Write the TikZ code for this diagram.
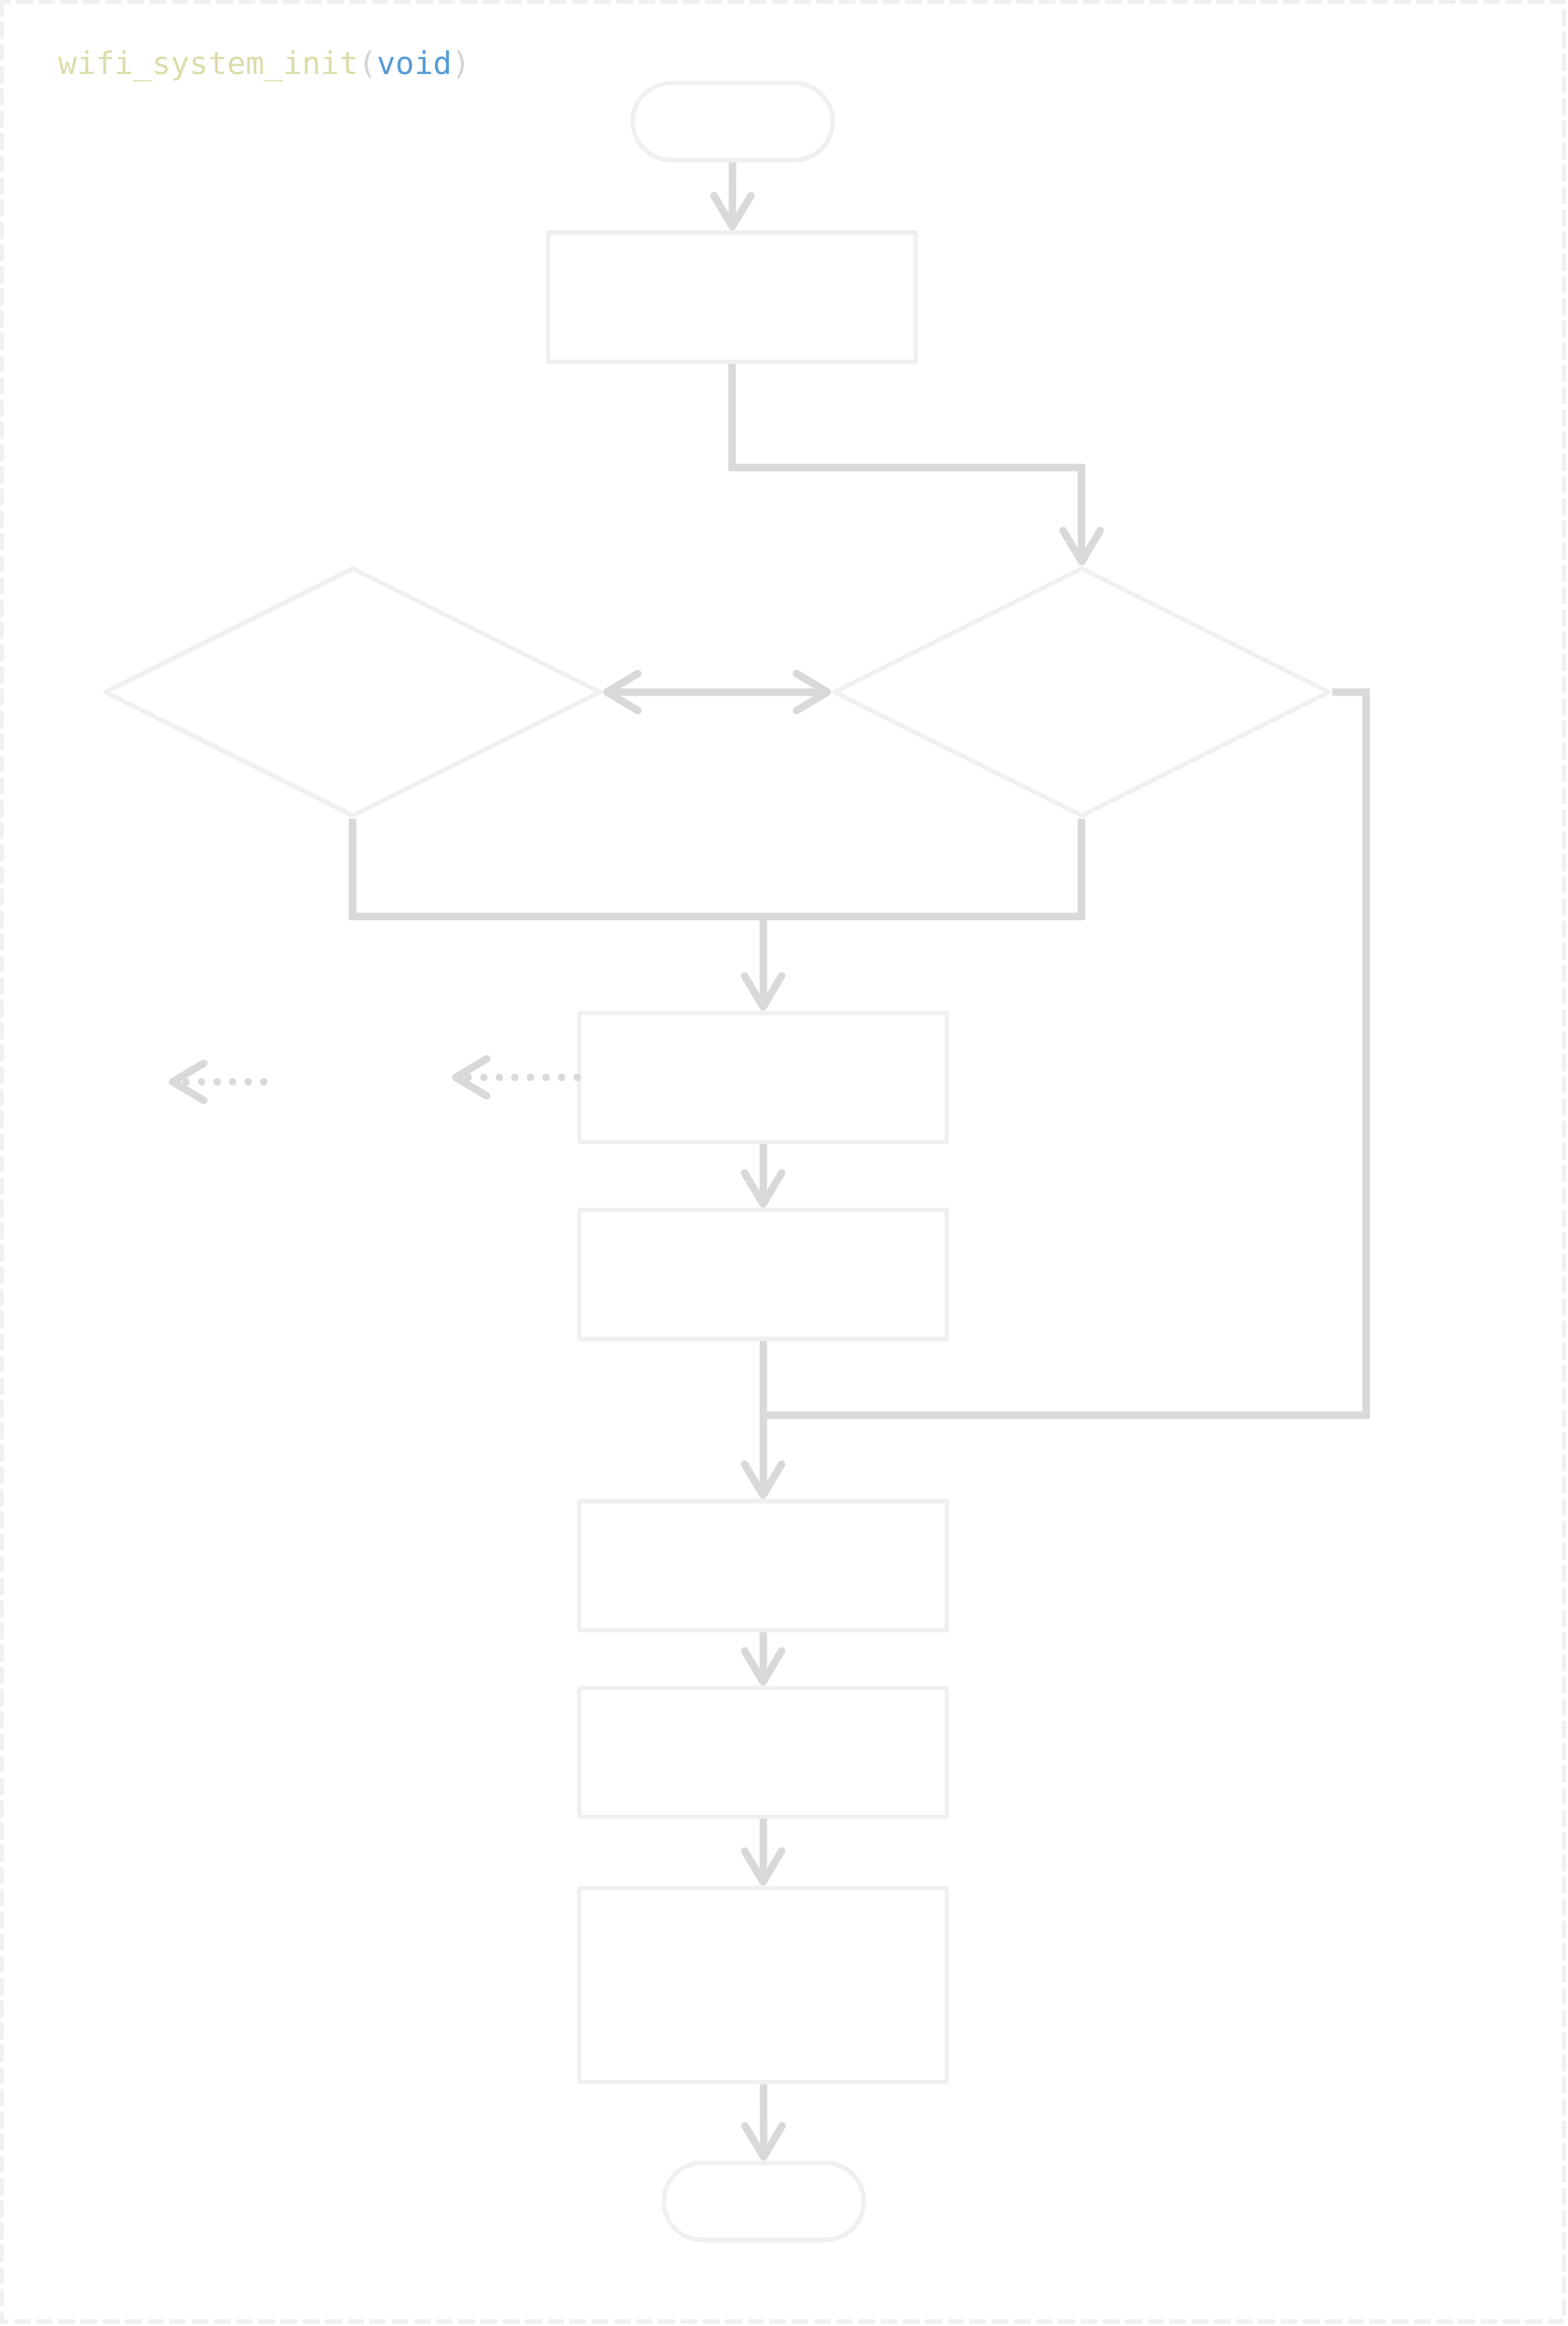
\documentclass[tikz,border=0pt]{standalone}
\usepackage{fontspec}
\newfontfamily\codefont{DejaVu Sans Mono}
\usetikzlibrary{arrows.meta,shapes.geometric}
\definecolor{edgegray}{HTML}{D9D9D9}
\definecolor{boxgray}{HTML}{F0F0F0}
\definecolor{fnyellow}{HTML}{DCDCAA}
\definecolor{kwblue}{HTML}{569CD6}
\definecolor{parengray}{HTML}{D4D4D4}
\begin{document}
\begin{tikzpicture}[x=1pt, y=-1pt, line join=round, line cap=round,
  proc/.style={draw=boxgray, line width=3pt, fill=white, minimum width=248pt, minimum height=87pt, inner sep=0pt},
  term/.style={draw=boxgray, line width=3pt, fill=white, rounded corners=26pt, minimum width=135pt, minimum height=52pt, inner sep=0pt},
  decision/.style={draw=boxgray, line width=3pt, diamond, aspect=2, minimum width=335pt, minimum height=168pt, inner sep=0pt},
  link/.style={draw=edgegray, line width=5pt, line join=miter, line cap=butt},
  flow/.style={link, -{Straight Barb[length=21pt,width=25pt,round]}},
  hint/.style={flow, line cap=round, dash pattern=on 0pt off 10.5pt}]
  \useasboundingbox (0,0) rectangle (1058,1569.6);
  \draw[boxgray, line width=3pt, dash pattern=on 9pt off 6pt] (1,1) rectangle (1055.5,1566.5);
  \node[anchor=base west, font=\codefont\fontsize{21}{25}\selectfont] (title) at (36,50)
    {\textcolor{fnyellow}{wifi\_system\_init}\textcolor{parengray}{(}\textcolor{kwblue}{void}\textcolor{parengray}{)}};
  % nodes
  \node[term] (start) at (494.5,82) {};
  \node[proc] (init) at (494,200.5) {};
  \node[decision] (d1) at (238,467) {};
  \node[decision] (d2) at (730,467) {};
  \node[proc] (box2) at (515,727) {};
  \node[proc] (box3) at (515,860) {};
  \node[proc] (box4) at (515,1056.5) {};
  \node[proc] (box5) at (515,1182.5) {};
  \node[proc, minimum height=131pt] (box6) at (515,1339.5) {};
  \node[term] (stop) at (515.5,1485.5) {};
  \coordinate (join) at (515,617);
  \coordinate (merge) at (515,955);
  \coordinate (out2) at (305,727);
  \coordinate (outa) at (178,730);
  \coordinate (outb) at (114,730);
  % connectors
  \draw[flow] (start) -- (init);
  \draw[flow] (init.south) -- ++(0,70) -| (d2.north);
  \draw[link, {Straight Barb[length=21pt,width=25pt,round]}-{Straight Barb[length=21pt,width=25pt,round]}] (d1.east) -- (d2.west);
  \draw[link] (d1.south) -- ++(0,66) -| (d2.south);
  \draw[flow] (join) -- (box2);
  \draw[link] (d2.east) -- ++(23,0) |- (merge);
  \draw[flow] (box2) -- (box3);
  \draw[flow] (box3) -- (box4);
  \draw[flow] (box4) -- (box5);
  \draw[flow] (box5) -- (box6);
  \draw[flow] (box6) -- (stop);
  \draw[hint] (box2.west) -- (out2);
  \draw[hint] (outa) -- (outb);
\end{tikzpicture}
\end{document}
